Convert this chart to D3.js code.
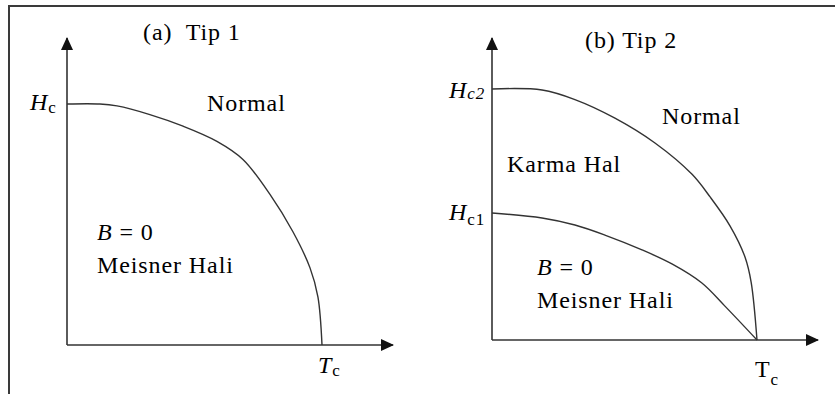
<!DOCTYPE html>
<html>
<head>
<meta charset="utf-8">
<script src="https://cdn.jsdelivr.net/npm/d3@7"></script>
</head>
<body style="margin:0">
<svg id="chart" width="835" height="394"></svg>
<script>
// Type I superconductor: critical field Hc(T), normalised to Hc(0) and Tc
const tempType1 = [0, 0.129, 0.196, 0.325, 0.455, 0.588, 0.690, 0.796, 0.886, 0.953, 0.984, 1];
const fieldType1 = [1, 1, 0.992, 0.956, 0.908, 0.845, 0.770, 0.625, 0.470, 0.320, 0.200, 0];

// Type II superconductor: upper critical field Hc2(T), normalised to Hc2(0) and Tc
const tempHc2 = [0, 0.189, 0.313, 0.464, 0.615, 0.755, 0.823, 0.898, 0.955, 0.978, 1];
const fieldHc2 = [1, 0.996, 0.958, 0.884, 0.785, 0.660, 0.570, 0.455, 0.330, 0.230, 0];

// Type II: lower critical field Hc1(T), same normalisation
const tempHc1 = [0, 0.189, 0.313, 0.426, 0.566, 0.679, 0.792, 0.879, 1];
const fieldHc1 = [0.506, 0.486, 0.458, 0.418, 0.359, 0.303, 0.227, 0.135, 0];

const svg = d3.select("#chart");
const ink = "#333";

// outer frame (top and left edges)
svg.append("path")
  .attr("d", "M9,394 V6 H835")
  .attr("fill", "none").attr("stroke", "#3a3a3a").attr("stroke-width", 2);

// arrow head
const defs = svg.append("defs");
defs.append("marker")
  .attr("id", "arrow")
  .attr("viewBox", "0 0 13 12")
  .attr("refX", 12).attr("refY", 6)
  .attr("markerWidth", 13).attr("markerHeight", 12)
  .attr("markerUnits", "userSpaceOnUse")
  .attr("orient", "auto")
  .append("path").attr("d", "M0,0 L13,6 L0,12 Z").attr("fill", "#111");

function panel(cfg) {
  const x = d3.scaleLinear().domain([0, 1]).range([cfg.x0, cfg.xTc]);
  const y = d3.scaleLinear().domain([0, 1]).range([cfg.y0, cfg.yH]);
  const g = svg.append("g");

  // axes with arrows
  g.append("line")
    .attr("x1", cfg.x0).attr("y1", cfg.y0)
    .attr("x2", cfg.xEnd).attr("y2", cfg.y0)
    .attr("stroke", ink).attr("stroke-width", 1.6)
    .attr("marker-end", "url(#arrow)");
  g.append("line")
    .attr("x1", cfg.x0).attr("y1", cfg.y0)
    .attr("x2", cfg.x0).attr("y2", cfg.yEnd)
    .attr("stroke", ink).attr("stroke-width", 1.6)
    .attr("marker-end", "url(#arrow)");

  const line = d3.line()
    .x(d => x(d[0])).y(d => y(d[1]))
    .curve(d3.curveCatmullRom.alpha(0.5));

  cfg.curves.forEach(c => {
    g.append("path")
      .datum(d3.zip(c.t, c.h))
      .attr("d", line)
      .attr("fill", "none")
      .attr("stroke", ink)
      .attr("stroke-width", 1.4);
  });
  return g;
}

panel({
  x0: 67, y0: 345, xTc: 322, yH: 104, xEnd: 393, yEnd: 38,
  curves: [{ t: tempType1, h: fieldType1 }]
});
panel({
  x0: 492, y0: 340, xTc: 757, yH: 89, xEnd: 818, yEnd: 38,
  curves: [{ t: tempHc2, h: fieldHc2 }, { t: tempHc1, h: fieldHc1 }]
});

// labels: parts are [text, italic, subscript shift]
function label(x, yb, parts) {
  const t = svg.append("text")
    .attr("x", x).attr("y", yb)
    .attr("font-family", "Liberation Serif")
    .attr("font-size", 24)
    .attr("letter-spacing", 0.9)
    .style("white-space", "pre");
  parts.forEach(p => {
    const s = t.append("tspan").text(p[0]);
    if (p[1]) s.attr("font-style", "italic");
    if (p[2]) s.attr("font-size", 17).attr("dy", p[2]);
  });
}

label(143, 40, [["(a)  Tip 1"]]);
label(30, 110, [["H", true], ["c", false, 3]]);
label(207, 111, [["Normal"]]);
label(97, 240, [["B", true], [" = 0"]]);
label(97, 273, [["Meisner Hali"]]);
label(318, 373, [["T", true], ["c", false, 3]]);

label(585, 48, [["(b) Tip 2"]]);
label(449, 98, [["H", true], ["c2", true, 1]]);
label(662, 124, [["Normal"]]);
label(507, 172, [["Karma Hal"]]);
label(449, 220, [["H", true], ["c1", false, 5]]);
label(537, 275, [["B", true], [" = 0"]]);
label(537, 308, [["Meisner Hali"]]);
label(755, 377, [["T"], ["c", false, 8]]);
</script>
</body>
</html>
